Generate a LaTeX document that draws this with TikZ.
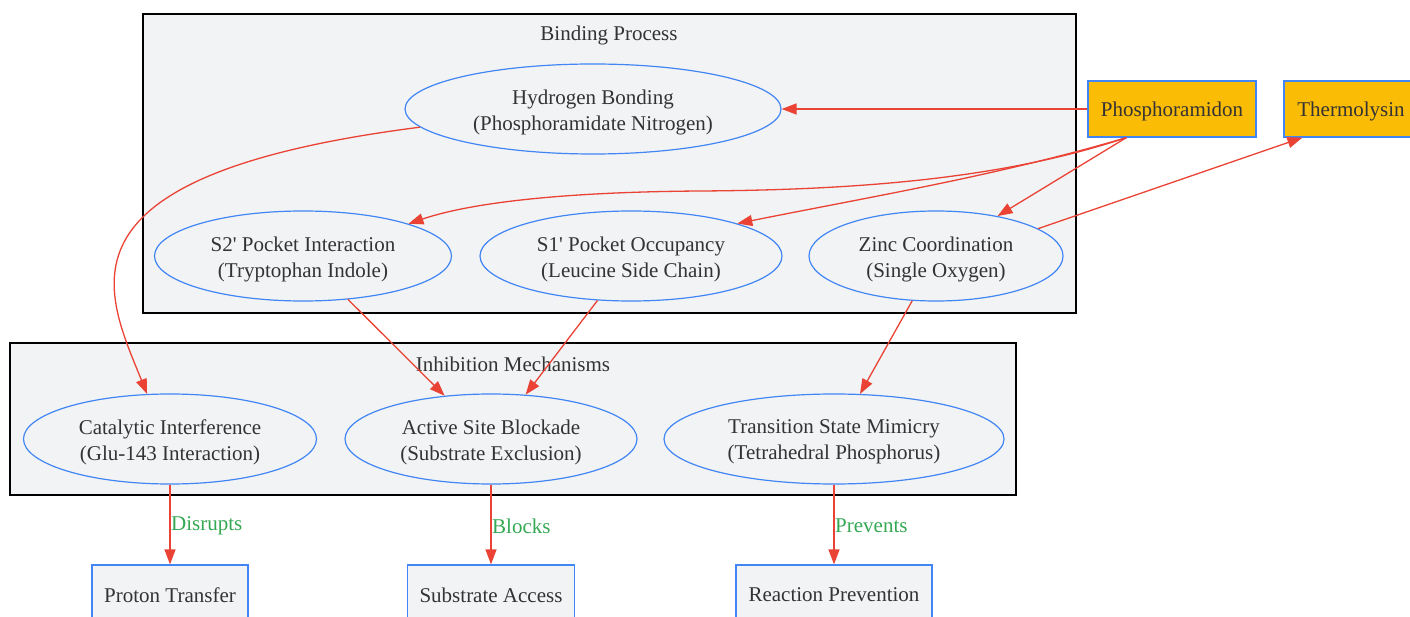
\documentclass[tikz,border=0pt]{standalone}
\usepackage{fontspec}
\setmainfont{Liberation Serif}
\usetikzlibrary{shapes.geometric,arrows.meta}
\definecolor{edgered}{HTML}{EA4335}
\definecolor{nodeblue}{HTML}{4285F4}
\definecolor{nodefill}{HTML}{F1F3F4}
\definecolor{gold}{HTML}{FBBC05}
\definecolor{txt}{HTML}{333333}
\definecolor{lblgreen}{HTML}{34A853}
\tikzset{
  every node/.style={font=\fontsize{21}{26}\selectfont, text=txt},
  cluster/.style={draw=black, line width=1.2pt, fill=nodefill},
  ell/.style={ellipse, draw=nodeblue, line width=1.2pt, fill=nodefill, inner sep=0pt, minimum height=90pt},
  gbox/.style={rectangle, draw=nodeblue, line width=1.2pt, fill=gold, minimum height=56pt, inner sep=0pt},
  wbox/.style={rectangle, draw=nodeblue, line width=1.2pt, fill=nodefill, minimum height=56pt, inner sep=0pt},
  tx/.style={align=center, inner sep=0pt},
  conn/.style={draw=edgered, line width=1.3pt, -{Triangle[length=15pt,width=11pt]}},
  lbl/.style={text=lblgreen, anchor=west, inner sep=1pt},
}
\newcommand{\q}{\textquotesingle}
\begin{document}
\begin{tikzpicture}[x=1pt,y=-1pt]
\useasboundingbox (0,0) rectangle (1410,617);
% clusters
\draw[cluster] (143,14) rectangle (1076,313);
\node[tx] (bptitle) at (609,35) {Binding Process};
\draw[cluster] (10,343) rectangle (1016,495);
\node[tx] (imtitle) at (513,364) {Inhibition Mechanisms};
% binding nodes
\node[ell, minimum width=376pt] (hb) at (593,109) {};
\node[tx] (hbt) at (593,112) {Hydrogen Bonding\\(Phosphoramidate Nitrogen)};
\node[ell, minimum width=297pt] (s2) at (303,256) {};
\node[tx] (s2t) at (303,259) {S2\q{} Pocket Interaction\\(Tryptophan Indole)};
\node[ell, minimum width=302pt] (s1) at (631,256) {};
\node[tx] (s1t) at (631,259) {S1\q{} Pocket Occupancy\\(Leucine Side Chain)};
\node[ell, minimum width=254pt] (zn) at (936,256) {};
\node[tx] (znt) at (936,259) {Zinc Coordination\\(Single Oxygen)};
% top boxes
\node[gbox, minimum width=168pt] (ph) at (1172,109) {};
\node[tx] (pht) at (1172,111) {Phosphoramidon};
\node[gbox, minimum width=134pt] (th) at (1351,109) {};
\node[tx] (tht) at (1351,111) {Thermolysin};
% inhibition nodes
\node[ell, minimum width=293pt] (ci) at (170,439) {};
\node[tx] (cit) at (170,442) {Catalytic Interference\\(Glu-143 Interaction)};
\node[ell, minimum width=292pt] (as) at (491,439) {};
\node[tx] (ast) at (491,442) {Active Site Blockade\\(Substrate Exclusion)};
\node[ell, minimum width=340pt] (ts) at (834,439) {};
\node[tx] (tst) at (834,442) {Transition State Mimicry\\(Tetrahedral Phosphorus)};
% bottom boxes
\node[wbox, minimum width=156pt] (pt) at (170,593) {};
\node[tx] (ptt) at (170,595) {Proton Transfer};
\node[wbox, minimum width=167pt] (sa) at (491,593) {};
\node[tx] (sat) at (491,595) {Substrate Access};
\node[wbox, minimum width=196pt] (rp) at (834,593) {};
\node[tx] (rpt) at (834,595) {Reaction Prevention};
% edges
\coordinate (phs) at ([xshift=39pt]ph.south west);
\draw[conn] (ph.west) -- (hb.east);
\draw[conn] (phs) .. controls (1000,180) and (850,190) .. (700,191)
  .. controls (560,192) and (470,203) .. (s2.17);
\draw[conn] (phs) .. controls (1000,175) and (880,195) .. (s1.17);
\draw[conn] (phs) -- (zn.33);
\draw[conn] (zn.15) -- ([xshift=19pt]th.south west);
\draw[conn] (hb.186) .. controls (45,175) and (105,290) .. (ci.117);
\draw[conn] (s2.-44) -- (as.137);
\draw[conn] (s1.-127) -- (as.52);
\draw[conn] (zn.-118) -- (ts.60);
\draw[conn] (ci.south) -- (pt.north);
\draw[conn] (as.south) -- (sa.north);
\draw[conn] (ts.south) -- (rp.north);
\node[lbl] (l1) at (170,526) {Disrupts};
\node[lbl] (l2) at (491,526) {Blocks};
\node[lbl] (l3) at (834,526) {Prevents};
\end{tikzpicture}
\end{document}
